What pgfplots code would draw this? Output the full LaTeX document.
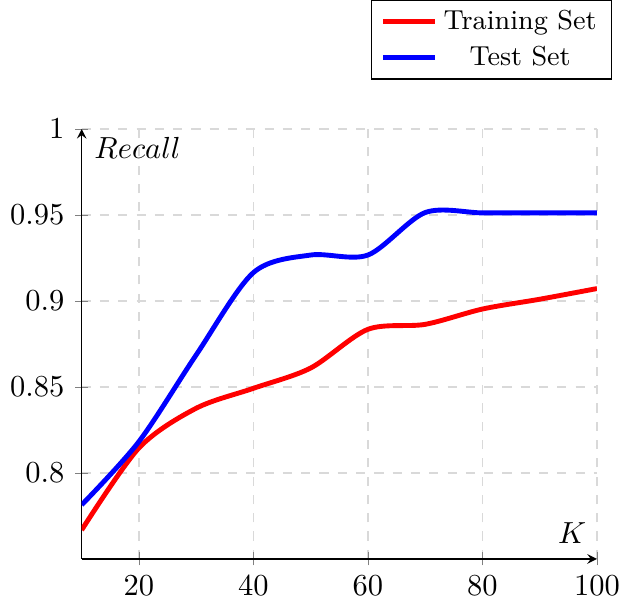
\documentclass[border=0pt]{standalone}
\usepackage{pgfplots}
\pgfplotsset{compat=1.18}
\begin{document}
\begin{tikzpicture}
\begin{axis}[
  scale only axis,
  width=169pt, height=141pt,
  xmin=10, xmax=100, ymin=0.75, ymax=1,
  axis lines=left,
  xtick={20,40,60,80,100},
  ytick={0.8,0.85,0.9,0.95,1},
  yticklabel style={/pgf/number format/fixed, /pgf/number format/precision=2},
  grid=major,
  grid style={dashed, gray!30},
  xlabel={$K$},
  ylabel={$Recall$},
  xlabel style={at={(axis description cs:1.0,0.01)}, anchor=south east},
  ylabel style={at={(axis description cs:0.004,1.005)}, anchor=north west, rotate=-90},
  legend style={at={(1.03,1.3)}, anchor=north east, font=\small, legend cell align=center, inner ysep=1pt},
  legend cell align=center,
]
\addplot[red, ultra thick, smooth] coordinates {
(10,0.7668) (20,0.8145) (30,0.8376) (40,0.8492) (50,0.8610) (60,0.8835) (70,0.8864) (80,0.8953) (90,0.9010) (100,0.9072)
};
\addlegendentry{Training Set}
\addplot[blue, ultra thick, smooth] coordinates {
(10,0.7814) (20,0.8182) (30,0.8686) (40,0.9165) (50,0.9267) (60,0.9267) (70,0.9514) (80,0.9512) (90,0.9512) (100,0.9512)
};
\addlegendentry{Test Set}
\end{axis}
\end{tikzpicture}
\end{document}
